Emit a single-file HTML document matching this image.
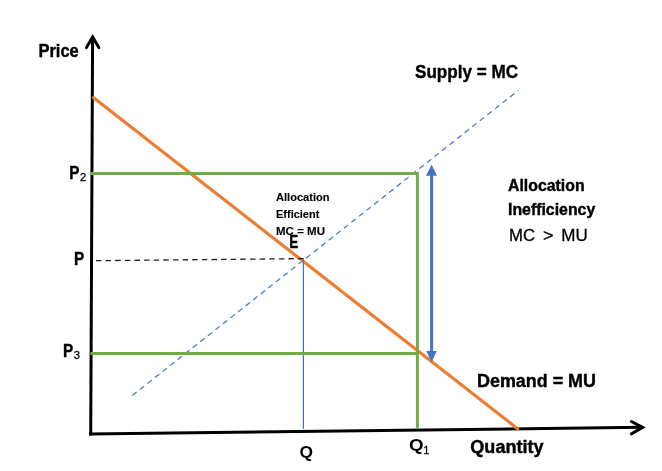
<!DOCTYPE html>
<html><head><meta charset="utf-8">
<style>
html,body{margin:0;padding:0;background:#fff;}
body{width:662px;height:471px;overflow:hidden;}
svg{display:block;will-change:transform;}
text{font-family:"Liberation Sans",sans-serif;fill:#000;}
.r{stroke:#000;stroke-width:0.3px;}
.b{font-weight:bold;stroke:#000;stroke-width:0.4px;}
.s{stroke-width:0.12px;}
.q{stroke-width:0;}
</style></head>
<body>
<svg width="662" height="471" viewBox="0 0 662 471">
<rect width="662" height="471" fill="#fff"/>
<g id="lines">
<!-- axes -->
<polyline points="90.7,435.5 92.6,38" fill="none" stroke="#000" stroke-width="3"/>
<polyline points="86.5,47.6 92.7,37 98.8,47.6" fill="none" stroke="#000" stroke-width="3" stroke-linecap="round" stroke-linejoin="miter"/>
<polyline points="89.2,434 642,427.3" fill="none" stroke="#000" stroke-width="3"/>
<polyline points="631.4,421.5 642.6,427.3 631.4,433.9" fill="none" stroke="#000" stroke-width="3" stroke-linecap="round" stroke-linejoin="miter"/>
<!-- supply dashed -->
<line x1="132.3" y1="395.5" x2="518.3" y2="90.4" stroke="#4472C4" stroke-width="1.2" stroke-dasharray="5.5 4.13"/>
<!-- demand -->
<line x1="93.6" y1="97.7" x2="517.6" y2="428.7" stroke="#ED7D31" stroke-width="3.2" stroke-linecap="round"/>
<!-- P dashed -->
<line x1="95.94" y1="260.7" x2="303.8" y2="258.6" stroke="#222" stroke-width="1.3" stroke-dasharray="5.5 4.13"/>
<!-- Q thin vertical -->
<line x1="303.4" y1="258" x2="303.4" y2="428.8" stroke="#4472C4" stroke-width="1.25"/>
<!-- green -->
<polyline points="90.2,173.4 417.4,173.4 417.4,429" fill="none" stroke="#70AD47" stroke-width="3" stroke-linejoin="miter"/>
<line x1="90.4" y1="353.4" x2="417.4" y2="353.4" stroke="#70AD47" stroke-width="3"/>
<!-- blue double arrow -->
<line x1="431.6" y1="174" x2="431.6" y2="352" stroke="#4472C4" stroke-width="3"/>
<polygon points="431.6,164.5 426,175.7 437,175.7" fill="#4472C4"/>
<polygon points="431.6,362.3 426.2,351.1 436.8,351.1" fill="#4472C4"/>
</g>
<g id="texts">
<text class="b" x="38.4" y="56.7" font-size="18" textLength="40.4" lengthAdjust="spacingAndGlyphs">Price</text>
<text class="b" x="415" y="77.7" font-size="18" textLength="103" lengthAdjust="spacingAndGlyphs">Supply = MC</text>
<text class="b" x="69.3" y="178.8" font-size="18.2" textLength="10.2" lengthAdjust="spacingAndGlyphs">P</text>
<text class="r" x="79.9" y="180.7" font-size="11.3" textLength="6.2" lengthAdjust="spacingAndGlyphs">2</text>
<text class="b" x="74.1" y="264.9" font-size="18.2" textLength="10.2" lengthAdjust="spacingAndGlyphs">P</text>
<text class="b" x="63.1" y="356.9" font-size="18.2" textLength="10.2" lengthAdjust="spacingAndGlyphs">P</text>
<text class="r" x="73.7" y="358.8" font-size="11.3" textLength="6.2" lengthAdjust="spacingAndGlyphs">3</text>
<text class="b s" x="276" y="200.9" font-size="11" textLength="53.5" lengthAdjust="spacingAndGlyphs">Allocation</text>
<text class="b s" x="276" y="217.8" font-size="11" textLength="43.3" lengthAdjust="spacingAndGlyphs">Efficient</text>
<text class="b s" x="276" y="234.6" font-size="11" textLength="49" lengthAdjust="spacingAndGlyphs">MC = MU</text>
<text class="b" x="289.2" y="247.6" font-size="18.5" textLength="9" lengthAdjust="spacingAndGlyphs">E</text>
<text class="b" x="508" y="190.9" font-size="15.8" textLength="76.6" lengthAdjust="spacingAndGlyphs">Allocation</text>
<text class="b" x="508" y="214.8" font-size="15.8" textLength="87.2" lengthAdjust="spacingAndGlyphs">Inefficiency</text>
<text class="r" x="509.1" y="241" font-size="16.5" textLength="26" lengthAdjust="spacingAndGlyphs">MC</text>
<text class="r" x="543.1" y="241" font-size="16.5" textLength="10.5" lengthAdjust="spacingAndGlyphs">&gt;</text>
<text class="r" x="561.3" y="241" font-size="16.5" textLength="26.5" lengthAdjust="spacingAndGlyphs">MU</text>
<text class="b" x="477" y="386.5" font-size="18" textLength="119" lengthAdjust="spacingAndGlyphs">Demand = MU</text>
<text class="b" x="470.3" y="453.1" font-size="18" textLength="73.3" lengthAdjust="spacingAndGlyphs">Quantity</text>
<text class="b q" x="299.5" y="458" font-size="17" textLength="13.5" lengthAdjust="spacingAndGlyphs">Q</text>
<text class="b q" x="409" y="451.3" font-size="17" textLength="14.6" lengthAdjust="spacingAndGlyphs">Q</text>
<text class="r" x="423.3" y="453.6" font-size="11.3" textLength="6.2" lengthAdjust="spacingAndGlyphs">1</text>
</g>
</svg>
</body></html>
